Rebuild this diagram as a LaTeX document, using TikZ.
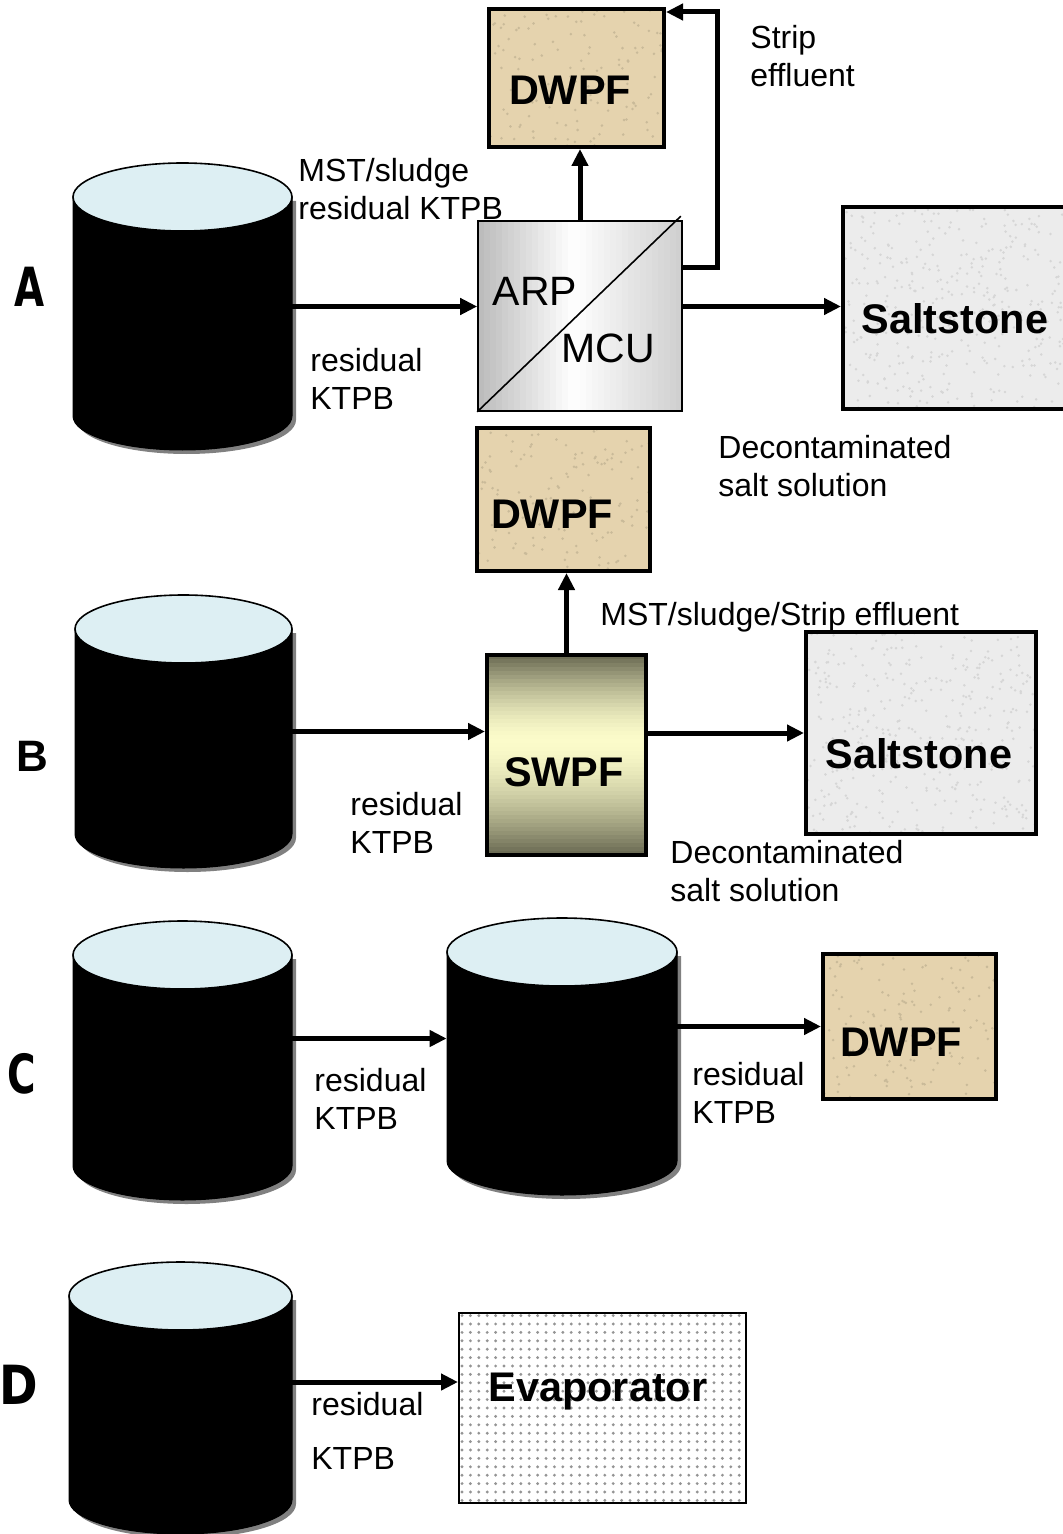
\documentclass[tikz,border=0pt]{standalone}
\usepackage{fontspec}
\setmainfont{Liberation Sans}
\newfontfamily\condfont[FakeStretch=0.72]{DejaVu Sans}
\newfontfamily\dfont[FakeStretch=0.86]{DejaVu Sans}
\usetikzlibrary{positioning, arrows.meta, calc, patterns.meta}
\definecolor{tanktop}{RGB}{221,239,243}
\definecolor{tankshadow}{RGB}{128,128,128}
\definecolor{dwpfcol}{RGB}{229,211,174}
\definecolor{saltcol}{RGB}{236,236,236}
\definecolor{swpfdark}{RGB}{108,108,84}
\definecolor{swpflight}{RGB}{251,251,202}
\newcommand{\tank}[5]{% name, centre x, top, bottom, half width
  \fill[tankshadow, xshift=2pt, yshift=-2pt] (#2-#5,#3+34) -- (#2-#5,#4-34)
    arc[start angle=180, end angle=0, x radius=#5, y radius=34] -- (#2+#5,#3+34) -- cycle;
  \filldraw[fill=black, draw=black, line width=0.5pt] (#2-#5,#3+34) -- (#2-#5,#4-34)
    arc[start angle=180, end angle=0, x radius=#5, y radius=34] -- (#2+#5,#3+34) -- cycle;
  \filldraw[fill=tanktop, draw=black, line width=0.8pt] (#2,#3+34) ellipse[x radius=#5, y radius=34];
  \node[inner sep=0, minimum width=#5pt, minimum height={(#4-#3)*0.5pt}] (#1) at (#2,{(#3+#4)/2}) {};
}
\tikzset{
  flow/.style={line width=2.5pt, -{Triangle[length=8.5pt,width=8pt]}},
  speckle/.style 2 args={path picture={
    \foreach \k in {1,...,#1}
      \fill[#2] ($(path picture bounding box.center)+({rand*60pt},{rand*52pt})$) circle[radius=0.7pt];}},
  dwpf/.style={draw, line width=2pt, fill=dwpfcol, inner sep=0, speckle={260}{dwpfcol!88!black}},
  salt/.style={draw, line width=2pt, fill=saltcol, minimum height=101pt, inner sep=0, speckle={420}{gray!32}},
  boxtxt/.style={font=\bfseries\fontsize{20.7}{24}\selectfont, inner sep=0, text depth=0pt},
  arptxt/.style={font=\fontsize{20.5}{24}\selectfont, inner sep=0, text depth=0pt},
  lbl/.style={font=\fontsize{16}{19}\selectfont, align=left, anchor=north west, inner sep=0},
  row/.style={inner sep=0, text depth=0pt, anchor=west}
}
\begin{document}
\begin{tikzpicture}[x=0.5pt, y=-0.5pt]
\useasboundingbox (0,0) rectangle (1063,1534);
\pgfmathsetseed{7}

\node[row, font=\condfont\bfseries\fontsize{27}{30}\selectfont] (rA) at (14,287) {A};
\node[row, font=\bfseries\fontsize{22}{26}\selectfont] (rB) at (16,756) {B};
\node[row, font=\condfont\bfseries\fontsize{27}{30}\selectfont] (rC) at (7,1073) {C};
\node[row, font=\dfont\bfseries\fontsize{27}{30}\selectfont] (rD) at (-1,1385) {D};

% row A
\tank{tA}{182.5}{163}{450}{109.5}
\node[draw, line width=0.8pt, minimum width=102pt, minimum height=95pt, inner sep=0,
  path picture={
    \begin{scope}[shift={(path picture bounding box.center)}, rotate=-45]
      \foreach \i in {0,...,47}{
        \pgfmathsetmacro\s{-72+3*\i}
        \pgfmathsetmacro\w{\s<-5 ? 100*(\s+72)/67 : 100-70*(\s+5)/77}
        \fill[white!\w!black!38] ({\s*1pt},-75pt) rectangle ({(\s+3.3)*1pt},75pt);}
    \end{scope}}] (arp) at (580,316) {};
\draw[line width=0.8pt] (arp.south west) -- ([xshift=-1pt,yshift=2pt]arp.north east);
\node[arptxt] (arpA) at ([xshift=-22.5pt,yshift=12.5pt]arp.center) {ARP};
\node[arptxt] (arpM) at ([xshift=14.25pt,yshift=-16pt]arp.center) {MCU};
\node[dwpf, minimum width=87.5pt, minimum height=69pt] (dA) at (576.5,78) {};
\node[boxtxt] (dAt) at ([xshift=-3.25pt,yshift=-6pt]dA.center) {DWPF};
\node[salt, minimum width=112pt] (sA) at (955,308) {};
\node[boxtxt] (sAt) at ([yshift=-5.5pt]sA.center) {Saltstone};
\draw[flow] (tA.east) -- (tA.east -| arp.west);
\draw[flow] (tA.east -| arp.east) -- (tA.east -| sA.west);
\draw[flow] (arp.north) -- (arp.north |- dA.south);
\draw[flow] ([yshift=24pt]arp.east) -- ++(35,0) |- ([yshift=-2.5pt]dA.north east);
\node[lbl] (lA1) at (750,25) {Strip\\effluent};
\node[lbl] (lA2) at (298,158) {MST/sludge\\residual KTPB};
\node[lbl] (lA3) at (310,348) {residual\\KTPB};
\node[lbl] (lA4) at (718,435) {Decontaminated\\salt solution};

% row B
\tank{tB}{183.5}{595}{868}{108.5}
\node[draw, line width=2pt, minimum width=79.5pt, minimum height=100pt, inner sep=0,
  path picture={
    \foreach \i in {0,...,49}{
      \pgfmathsetmacro\t{100*(1-(abs(\i-21)/(\i<21 ? 21 : 28))^1.6)}
      \fill[swpflight!\t!swpfdark]
        ($(path picture bounding box.north west)!{\i/50}!(path picture bounding box.south west)$) rectangle
        ($(path picture bounding box.north east)!{(\i+1.3)/50}!(path picture bounding box.south east)$);}}] (swpf) at (566.5,755) {};
\node[boxtxt] (swt) at ([xshift=-1.25pt,yshift=-8.5pt]swpf.center) {SWPF};
\node[dwpf, minimum width=86.5pt, minimum height=71.5pt] (dB) at (563.5,499.5) {};
\node[boxtxt] (dBt) at ([xshift=-5.75pt,yshift=-7.5pt]dB.center) {DWPF};
\node[salt, minimum width=115pt] (sB) at (921,733) {};
\node[boxtxt] (sBt) at ([xshift=-1pt,yshift=-10pt]sB.center) {Saltstone};
\draw[flow] (tB.east) -- (tB.east -| swpf.west);
\draw[flow] (swpf.east |- sB.west) -- (sB.west);
\draw[flow] (swpf.north) -- (swpf.north |- dB.south);
\node[lbl] (lB1) at (600,602) {MST/sludge/Strip effluent};
\node[lbl] (lB2) at (350,792) {residual\\KTPB};
\node[lbl] (lB3) at (670,840) {Decontaminated\\salt solution};

% row C
\tank{tC1}{182.5}{921}{1200}{109.5}
\tank{tC2}{562}{918}{1195}{115}
\node[dwpf, minimum width=86.5pt, minimum height=72.5pt] (dC) at (909.5,1026.5) {};
\node[boxtxt] (dCt) at ([xshift=-4.25pt,yshift=-7.75pt]dC.center) {DWPF};
\draw[flow] ([yshift=11pt]tC1.east) -- ([yshift=11pt]tC1.east -| tC2.west);
\draw[flow] (tC2.east |- dC.west) -- (dC.west);
\node[lbl] (lC1) at (314,1068) {residual\\KTPB};
\node[lbl] (lC2) at (692,1062) {residual\\KTPB};

% row D
\tank{tD}{180.5}{1262}{1534}{111.5}
\node[draw, line width=1pt, minimum width=143.5pt, minimum height=95pt, inner sep=0,
  pattern={Dots[distance=4.2pt, radius=0.8pt]}, pattern color=black!42] (ev) at (602.5,1408) {};
\node[boxtxt] (evt) at ([xshift=-2.25pt,yshift=10.5pt]ev.center) {Evaporator};
\draw[flow] ([yshift=8pt]tD.east) -- ([yshift=8pt]tD.east -| ev.west);
\node[lbl, font=\fontsize{16}{27}\selectfont] (lD1) at (311,1392) {residual\\KTPB};
\end{tikzpicture}
\end{document}
